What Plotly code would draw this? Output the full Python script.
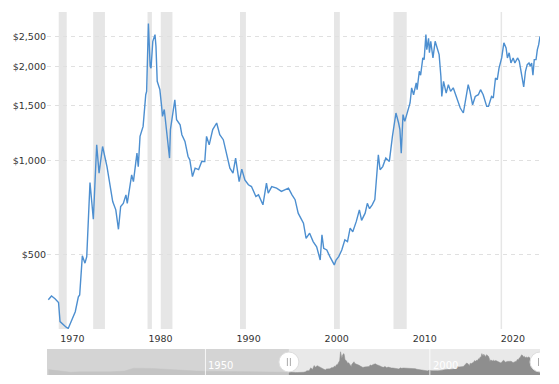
import datetime as dt
import plotly.graph_objects as go

# ---- data ----
years = [1968.74, 1969.1, 1969.5, 1969.9, 1970.07, 1970.5, 1970.8, 1971.0, 1971.4, 1971.8,
         1972.15, 1972.3, 1972.6, 1972.9, 1973.1, 1973.47, 1973.85, 1974.23, 1974.5, 1974.9,
         1975.4, 1975.75, 1976.05, 1976.4, 1976.7, 1976.95, 1977.25, 1977.55, 1977.7, 1978.2,
         1978.4, 1978.8, 1978.95, 1979.15, 1979.5, 1979.8, 1979.9, 1980.1, 1980.3, 1980.4,
         1980.6, 1980.85, 1980.96, 1981.1, 1981.4, 1981.6, 1981.7, 1981.9, 1982.2, 1982.5,
         1982.6, 1982.85, 1983.1, 1983.3, 1983.7, 1983.9, 1984.25, 1984.6, 1984.8, 1985.1,
         1985.4, 1985.8, 1986.15, 1986.5, 1986.7, 1987.0, 1987.4, 1987.85, 1988.2, 1988.6,
         1988.9, 1989.35, 1989.7, 1990.0, 1990.4, 1990.7, 1991.05, 1991.45, 1991.8, 1992.3,
         1992.6, 1993.1, 1993.5, 1993.7, 1994.1, 1994.65, 1995.2, 1995.6, 1996.0, 1996.4,
         1996.75, 1997.1, 1997.4, 1997.7, 1998.0, 1998.4, 1998.8, 1999.2, 1999.6, 1999.8,
         2000.0, 2000.35, 2000.7, 2001.2, 2001.4, 2001.7, 2002.05, 2002.4, 2002.7, 2003.0,
         2003.3, 2003.7, 2004.05, 2004.3, 2004.7, 2004.95, 2005.2, 2005.5, 2005.8, 2006.0,
         2006.2, 2006.4, 2006.7, 2007.05, 2007.45, 2007.8, 2008.2, 2008.5, 2008.65, 2008.8,
         2009.0, 2009.2, 2009.4, 2009.8, 2009.98, 2010.2, 2010.5, 2010.6, 2010.85, 2011.0,
         2011.25, 2011.4, 2011.6, 2011.7, 2011.9, 2012.0, 2012.15, 2012.4, 2012.65, 2012.9,
         2013.1, 2013.3, 2013.4, 2013.6, 2013.9, 2014.15, 2014.4, 2014.7, 2015.1, 2015.5,
         2015.85, 2016.15, 2016.4, 2016.6, 2016.9, 2017.2, 2017.55, 2017.8, 2018.1, 2018.5,
         2018.7, 2019.05, 2019.25, 2019.5, 2019.7, 2019.9, 2020.2, 2020.45, 2020.7, 2020.85,
         2021.05, 2021.25, 2021.5, 2021.7, 2022.0, 2022.2, 2022.5, 2022.7, 2022.9, 2023.1,
         2023.3, 2023.45, 2023.6, 2023.75, 2023.9, 2024.1, 2024.25, 2024.4, 2024.55]
prices = [357, 367, 360, 350, 304, 295, 291, 289, 307, 327,
          365, 370, 494, 468, 491, 849, 647, 1122, 910, 1108,
          955, 835, 738, 694, 601, 711, 728, 775, 728, 898,
          855, 1055, 955, 1194, 1285, 1624, 1665, 2747, 2003, 1975,
          2410, 2532, 2320, 1793, 1686, 1490, 1384, 1456, 1194, 1017,
          1255, 1384, 1565, 1350, 1300, 1209, 1150, 1029, 1004, 887,
          944, 934, 992, 992, 1194, 1122, 1255, 1318, 1209, 1165,
          1068, 944, 910, 1017, 855, 937, 866, 835, 824, 766,
          775, 720, 845, 785, 824, 815, 795, 805, 815, 775,
          748, 677, 652, 629, 562, 584, 549, 528, 479, 577,
          522, 516, 491, 462, 479, 491, 516, 556, 549, 606,
          590, 637, 694, 642, 677, 728, 700, 720, 748, 866,
          1042, 933, 955, 1017, 992, 1194, 1419, 1318, 1255, 1055,
          1402, 1334, 1402, 1528, 1709, 1624, 1772, 1686, 1931, 1876,
          2131, 2105, 2532, 2265, 2462, 2214, 2410, 2131, 2410, 2294,
          2184, 1859, 1603, 1793, 1643, 1750, 1665, 1709, 1585, 1472,
          1419, 1603, 1750, 1665, 1508, 1603, 1624, 1686, 1624, 1490,
          1490, 1603, 1585, 1838, 1815, 1978, 2131, 2383, 2294, 2131,
          2214, 2053, 2131, 2053, 2131, 2079, 1876, 1720, 1931, 2028,
          2053, 2003, 2053, 1876, 2105, 2105, 2265, 2350, 2500]

# earlier history shown only in the navigator (rough estimates)
early_years = [1915, 1917, 1920, 1922, 1925, 1929, 1932, 1934, 1938, 1942,
               1946, 1948, 1950, 1953, 1957, 1960, 1964, 1968]
early_prices = [640, 480, 330, 380, 370, 380, 470, 810, 780, 640,
                560, 470, 455, 420, 400, 370, 350, 330]

recessions = [(1969.92, 1970.83), (1973.83, 1975.17), (1980.0, 1980.5), (1981.5, 1982.83),
              (1990.5, 1991.17), (2001.17, 2001.83), (2007.92, 2009.42), (2020.08, 2020.25)]

y_ticks = [500, 1000, 1500, 2000, 2500]
y_tick_labels = ['$500', '$1,000', '$1,500', '$2,000', '$2,500']
x_tick_years = [1970, 1980, 1990, 2000, 2010, 2020]
x_tick_labels = ['1970', '1980', '1990', '2000', '2010', '2020']
nav_label_years = [1950, 2000]
nav_labels = ['1950', '2000']
view_start, view_end = 1968.59, 2024.55
nav_start = 1914.69


def to_date(d):
    y = int(d)
    s = dt.datetime(y, 1, 1)
    e = dt.datetime(y + 1, 1, 1)
    return s + (e - s) * (d - y)


x_main = [to_date(v) for v in years]
x_nav = [to_date(v) for v in early_years] + x_main
y_nav = early_prices + prices

FONT = 'DejaVu Sans'
fig = go.Figure()

fig.add_trace(go.Scatter(x=x_main, y=prices, mode='lines',
                         line=dict(color='#4d8fd0', width=1.4),
                         xaxis='x', yaxis='y', hoverinfo='skip'))
fig.add_trace(go.Scatter(x=x_nav, y=y_nav, mode='lines', fill='tozeroy',
                         fillcolor='#8e8e8e', line=dict(color='#8e8e8e', width=0.5),
                         xaxis='x2', yaxis='y2', hoverinfo='skip'))

shapes = []
for a, b in recessions:
    shapes.append(dict(type='rect', xref='x', yref='y domain', x0=to_date(a), x1=to_date(b),
                       y0=0, y1=1, fillcolor='#e6e6e6', line=dict(width=0), layer='below'))
# navigator background
shapes.append(dict(type='rect', xref='x2 domain', yref='y2 domain', x0=0, x1=1, y0=0, y1=1,
                   fillcolor='#e9e9e9', line=dict(width=0), layer='below'))
# navigator mask (outside selected range)
shapes.append(dict(type='rect', xref='x2', yref='y2 domain', x0=to_date(nav_start),
                   x1=to_date(view_start), y0=0, y1=1,
                   fillcolor='rgba(207,207,207,0.82)', line=dict(width=0), layer='above'))
# navigator grid lines
for yv in nav_label_years:
    shapes.append(dict(type='line', xref='x2', yref='y2 domain', x0=to_date(yv), x1=to_date(yv),
                       y0=0, y1=1, line=dict(color='rgba(255,255,255,0.8)', width=1), layer='above'))
# handles
for hv in [view_start, view_end]:
    shapes.append(dict(type='circle', xref='x2', yref='y2 domain', xsizemode='pixel',
                       ysizemode='pixel', xanchor=to_date(hv), yanchor=0.5,
                       x0=-10, x1=10, y0=-10, y1=10, fillcolor='white',
                       line=dict(color='#dddddd', width=1), layer='above'))
    for off in (-1.5, 1.5):
        shapes.append(dict(type='line', xref='x2', yref='y2 domain', xsizemode='pixel',
                           ysizemode='pixel', xanchor=to_date(hv), yanchor=0.5,
                           x0=off, x1=off, y0=-4, y1=4,
                           line=dict(color='#aaaaaa', width=1), layer='above'))

annotations = []
for yv, lab in zip(nav_label_years, nav_labels):
    annotations.append(dict(x=to_date(yv), y=0.35, xref='x2', yref='y2 domain', text=lab,
                            showarrow=False, xanchor='left', yanchor='middle', xshift=1,
                            font=dict(family=FONT, size=10, color='white')))

# the page body adds an 8px offset; size/margins compensate for it
fig.update_layout(
    width=551, height=376,
    margin=dict(l=39, r=19, t=4, b=9, autoexpand=False),
    paper_bgcolor='white', plot_bgcolor='white',
    showlegend=False,
    shapes=shapes, annotations=annotations,
    font=dict(family=FONT, size=9.5, color='#333333'),
    xaxis=dict(domain=[0, 1], anchor='y', type='date',
               range=[to_date(view_start), to_date(view_end)],
               tickvals=[dt.datetime(v, 1, 1) for v in x_tick_years], ticktext=x_tick_labels,
               showgrid=False, zeroline=False, showline=False, ticks='',
               ticklabelshift=13, ticklabelstandoff=2, automargin=False),
    yaxis=dict(domain=[0.12672, 1], anchor='x', type='log', range=[2.459, 3.476],
               tickvals=y_ticks, ticktext=y_tick_labels,
               showgrid=True, gridcolor='#e0e0e0', griddash='4px,4px', gridwidth=1,
               zeroline=False, showline=False, ticks='', automargin=False),
    xaxis2=dict(domain=[0, 1], anchor='y2', type='date',
                range=[to_date(nav_start), to_date(view_end)],
                showgrid=False, showticklabels=False, zeroline=False, showline=False),
    yaxis2=dict(domain=[0, 0.07163], anchor='x2', range=[0, 3076],
                showgrid=False, showticklabels=False, zeroline=False, showline=False),
)

fig.write_html('out.html')
